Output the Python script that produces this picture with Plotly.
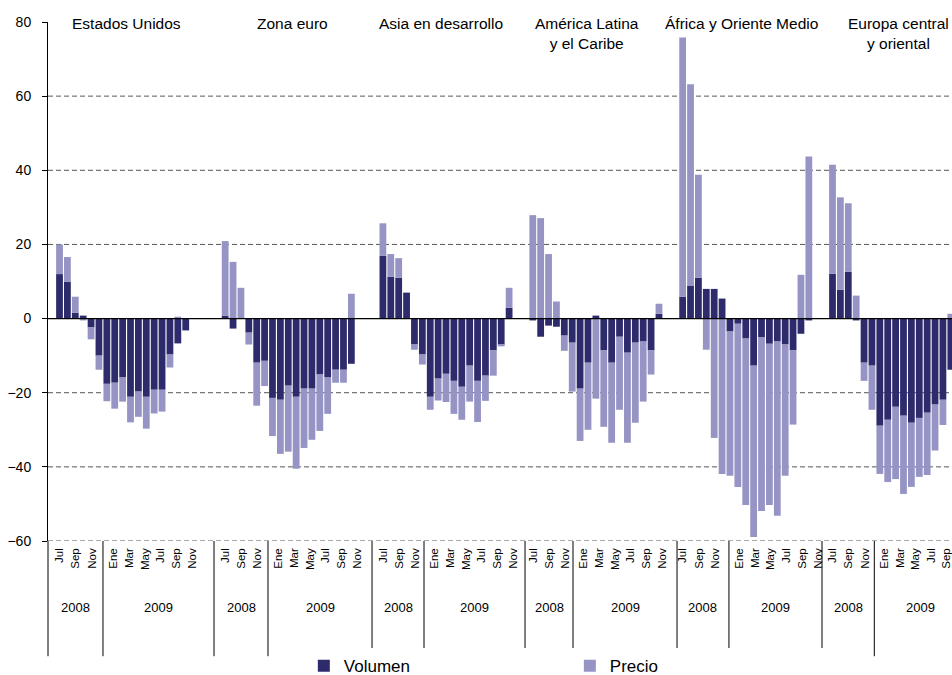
import plotly.graph_objects as go

# contribuciones al crecimiento del comercio, jul-2008 .. nov-2009 (puntos porcentuales)
regiones = ["Estados Unidos", "Zona euro", "Asia en desarrollo",
            "América Latina<br>y el Caribe", "África y Oriente Medio",
            "Europa central<br>y oriental"]

volumen_eeuu = [12.0, 9.9, 1.6, 0.8, -2.4, -10.0, -17.6, -17.3, -15.9, -21.1, -19.7,
                -21.1, -19.2, -19.2, -9.7, -6.7, -3.2]
precio_eeuu = [8.0, 6.7, 4.3, -0.5, -3.2, -3.8, -4.7, -7.0, -6.5, -6.9, -6.8,
               -8.6, -6.4, -5.9, -3.5, 0.5, 0.0]

volumen_euro = [0.8, -2.7, 0.0, -3.8, -11.9, -11.4, -21.4, -21.9, -18.1, -21.1, -18.9,
                -18.9, -15.1, -15.9, -13.8, -13.8, -12.2]
precio_euro = [20.1, 15.3, 8.3, -3.2, -11.6, -6.8, -10.3, -14.6, -17.8, -19.4, -16.0,
               -13.8, -15.2, -9.8, -3.5, -3.5, 6.7]

volumen_asia = [16.9, 11.3, 11.0, 7.0, -7.0, -9.7, -21.1, -16.2, -14.9, -16.8, -18.4,
                -12.7, -16.8, -15.4, -8.6, -7.0, 2.9]
precio_asia = [8.8, 6.1, 5.3, 0.0, -1.4, -2.7, -3.5, -5.9, -7.6, -8.9, -8.9,
               -9.7, -11.1, -6.8, -6.8, -0.5, 5.4]

volumen_alc = [-0.5, -4.9, -1.9, -2.2, -4.6, -6.5, -18.9, -11.9, 0.8, -8.6, -11.9,
               -4.9, -9.2, -6.5, -6.2, -8.6, 1.3]
precio_alc = [27.9, 27.1, 17.4, 4.6, -4.1, -13.2, -14.1, -18.1, -21.6, -20.6, -21.6,
              -19.7, -24.3, -21.6, -16.2, -6.5, 2.7]

volumen_africa = [5.9, 8.8, 11.0, 8.0, 8.0, 5.4, -3.5, -1.4, -5.4, -12.7, -5.1,
                  -6.8, -6.2, -7.0, -8.6, -4.1, -0.5]
precio_africa = [69.9, 54.4, 27.8, -8.4, -32.2, -41.9, -38.9, -44.0, -44.9, -46.2, -46.8,
                 -43.5, -47.0, -35.4, -20.0, 11.8, 43.7]

volumen_europa = [12.1, 7.8, 12.6, -0.5, -11.9, -12.7, -28.9, -27.3, -23.8, -26.2, -28.1,
                  -26.8, -25.4, -23.2, -21.9, -13.8]
precio_europa = [29.4, 24.9, 18.5, 6.2, -4.9, -11.9, -13.0, -16.8, -19.5, -21.1, -17.3,
                 -15.9, -16.8, -12.4, -6.8, 1.3]

volumen = [volumen_eeuu, volumen_euro, volumen_asia, volumen_alc, volumen_africa, volumen_europa]
precio = [precio_eeuu, precio_euro, precio_asia, precio_alc, precio_africa, precio_europa]

meses_2008 = ["Jul", "Sep", "Nov"]
meses_2009 = ["Ene", "Mar", "May", "Jul", "Sep", "Nov"]
anios = ["2008", "2009"]

# posición del primer mes de cada región en el eje (meses + huecos)
inicio = [0, 21, 41, 60, 79, 98]
centro_titulo = [8.5, 8.5, 7.4, 6.9, 7.5, 8.4]
# separadores de la franja de fechas, relativos al inicio de cada región
sep_region = [-1.46, -1.41, -1.38, -0.98, -0.71, -1.33]
sep_anio = [5.51, 5.43, 5.21, 5.10, 5.87, 5.3]
paso_2009 = [2.0, 2.0, 2.0, 2.0, 2.0, 1.96]

OSCURO = "#2d2b6b"
CLARO = "#9594c4"
FUENTE = "Liberation Sans, Arial, sans-serif"

x_all, vol_all, pre_all = [], [], []
for r in range(len(regiones)):
    for i in range(len(volumen[r])):
        x_all.append(inicio[r] + i)
        vol_all.append(volumen[r][i])
        pre_all.append(precio[r][i])

fig = go.Figure()
fig.add_trace(go.Bar(x=x_all, y=vol_all, name="Volumen", marker_color=OSCURO,
                     marker_line_width=0, width=0.86))
fig.add_trace(go.Bar(x=x_all, y=pre_all, name="Precio", marker_color=CLARO,
                     marker_line_width=0, width=0.86))

# las etiquetas de mes del original no caen justo bajo las barras de 2009
tickvals, ticktext = [], []
for r, s in enumerate(inicio):
    for k, m in enumerate(meses_2008):
        tickvals.append(s + 2.05 * k)
        ticktext.append(m)
    for k, m in enumerate(meses_2009):
        tickvals.append(s + sep_anio[r] + 1.3 + paso_2009[r] * k)
        ticktext.append(m)

shapes = []
for g in [60, 40, 20, -20, -40, -60]:
    shapes.append(dict(type="line", xref="paper", yref="y", x0=0, x1=1, y0=g, y1=g,
                       line=dict(color="#555", width=1, dash="5px,3px"), layer="below"))
shapes.append(dict(type="line", xref="paper", yref="y", x0=0, x1=1, y0=0, y1=0,
                   line=dict(color="black", width=1.2)))

fondo = -0.222
shapes.append(dict(type="line", xref="paper", yref="paper", x0=0, x1=0, y0=0, y1=fondo,
                   line=dict(color="black", width=1)))
annotations = []
for r, s in enumerate(inicio):
    izq = s + sep_region[r]
    sep = s + sep_anio[r]
    der = inicio[r + 1] + sep_region[r + 1] if r + 1 < len(inicio) else s + 17
    if r > 0:
        shapes.append(dict(type="line", xref="x", yref="paper", x0=izq, x1=izq, y0=0, y1=fondo,
                           line=dict(color="black", width=1)))
    shapes.append(dict(type="line", xref="x", yref="paper", x0=sep, x1=sep, y0=0, y1=fondo,
                       line=dict(color="black", width=1)))
    annotations.append(dict(x=(izq + sep) / 2, y=-0.146, xref="x", yref="paper",
                            text=anios[0], showarrow=False, font=dict(size=13)))
    annotations.append(dict(x=(sep + der) / 2, y=-0.146, xref="x", yref="paper",
                            text=anios[1], showarrow=False, font=dict(size=13)))
    annotations.append(dict(x=s + centro_titulo[r], y=1.018, xref="x", yref="paper",
                            text=regiones[r], showarrow=False, yanchor="top",
                            font=dict(size=15.5), align="center"))

fig.update_layout(
    width=952, height=675,
    margin=dict(l=48, r=0, t=22, b=134, autoexpand=False),
    barmode="relative",
    paper_bgcolor="white", plot_bgcolor="white",
    font=dict(family=FUENTE, color="black", size=14),
    shapes=shapes, annotations=annotations,
    legend=dict(orientation="h", x=0.283, y=-0.241, yanchor="middle",
                entrywidth=221, entrywidthmode="pixels", font=dict(size=17)),
)
fig.update_xaxes(range=[-1.46, 113.15], showgrid=False, zeroline=False, showline=False,
                 tickvals=tickvals, ticktext=ticktext, tickangle=-90, ticks="",
                 tickfont=dict(size=11.5), ticklabelstandoff=4, ticklabeloverflow="allow",
                 automargin=False)
fig.update_yaxes(range=[-60, 80], tickvals=list(range(-60, 81, 20)), showgrid=False,
                 zeroline=False, showline=True, linecolor="black", linewidth=1,
                 ticks="outside", ticklen=5, tickcolor="black", tickfont=dict(size=14),
                 ticklabelstandoff=8, automargin=False)

# la página trae margen por defecto en <body>; se quita para que la figura ocupe la ventana
fig.write_html("out.html", config={"displayModeBar": False},
               post_script="document.body.style.margin='0';")
